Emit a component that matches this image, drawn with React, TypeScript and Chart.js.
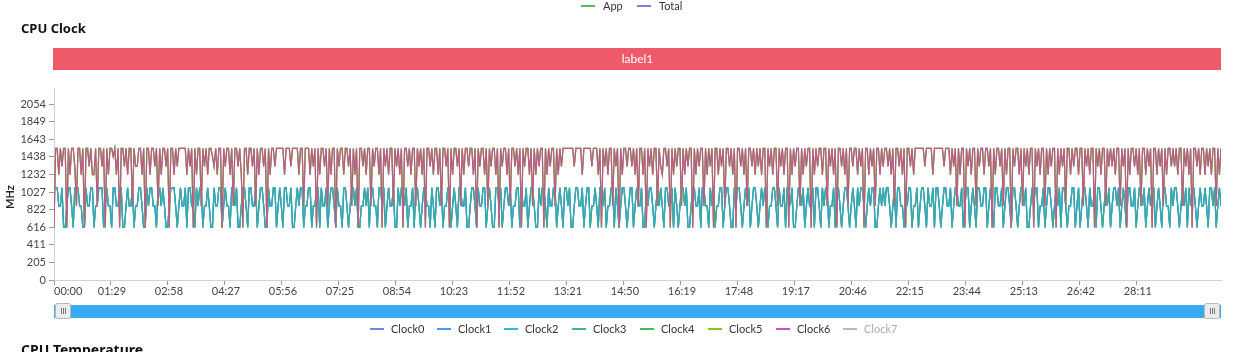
import { useEffect, useRef } from "react";
import { Chart, registerables } from "chart.js";

Chart.register(...registerables);

const seriesNames = ["Clock0", "Clock1", "Clock2", "Clock3", "Clock4", "Clock5", "Clock6", "Clock7"];
const seriesColors = ["#7784d8", "#4a9cf2", "#2fb8e6", "#3db59c", "#47b95a", "#86c617", "#d64cb4", "#b4b9c8"];
const lineColors = ["#7784d8", "#4a9cf2", "#2fb8e6", "rgba(58,168,150,0.9)", "#47b95a", "#86c617", "rgba(206,62,170,0.82)", "#b4b9c8"];
const hiddenSeries = ["Clock7"];
const topLegendNames = ["App", "Total"];
const topLegendColors = ["#5cb85c", "#7784d8"];
const yTickValues = [0, 205.4, 410.8, 616.2, 821.6, 1027, 1232.4, 1437.8, 1643.2, 1848.6, 2054];
const xTickSeconds = [0, 89, 178, 267, 356, 445, 534, 623, 712, 801, 890, 979, 1068, 1157, 1246, 1335, 1424, 1513, 1602, 1691];
const sampleStepSeconds = 2.5;
const xMaxSeconds = 1822.5;
const yMax = 2241;

// little-core cluster (Clock0-3), MHz
const littleClock = [
  1075,1075,1075,864,864,1075,614,614,864,1075,1075,864,614,1075,1075,1075,864,864,614,614,
  1075,864,864,1075,1075,614,864,864,1075,1075,1075,614,864,1075,864,864,614,1075,1075,864,
  864,1075,1075,614,614,864,1075,864,864,1075,614,864,864,1075,1075,864,614,614,1075,864,
  1075,1075,864,864,614,1075,1075,864,1075,864,614,614,864,1075,1075,1075,864,614,864,1075,
  864,864,1075,614,1075,1075,864,864,614,1075,864,1075,1075,614,864,864,1075,864,614,614,
  1075,864,864,1075,1075,614,864,1075,864,864,614,1075,1075,864,1075,614,614,864,1075,1075,
  864,614,1075,1075,864,864,1075,614,864,1075,1075,864,614,614,1075,864,864,1075,1075,614,
  864,1075,864,614,1075,1075,864,864,1075,614,614,864,1075,864,1075,1075,614,864,864,1075,
  1075,614,864,864,1075,1075,614,1075,864,864,1075,614,864,1075,1075,864,614,1075,864,864,
  614,1075,1075,864,614,864,1075,1075,864,1075,614,614,864,864,1075,864,1075,614,1075,1075,
  864,864,614,1075,1075,864,1075,614,864,1075,864,864,1075,614,614,1075,864,1075,1075,864,
  1075,614,864,864,1075,614,1075,1075,864,614,864,1075,1075,864,864,614,1075,864,614,1075,
  1075,864,1075,614,864,864,1075,1075,614,864,1075,864,614,1075,1075,864,864,1075,614,614,
  864,1075,1075,864,614,1075,864,864,1075,1075,614,864,1075,864,614,614,1075,1075,864,1075,
  614,864,1075,1075,864,1075,614,864,864,1075,1075,614,1075,864,864,1075,614,864,1075,1075,
  864,614,614,1075,864,1075,1075,864,614,1075,864,864,1075,1075,614,864,1075,864,614,1075,
  1075,864,1075,614,614,864,1075,1075,864,864,1075,614,864,1075,1075,614,864,864,1075,864,
  614,1075,1075,864,1075,614,864,864,1075,1075,614,1075,864,614,864,1075,1075,864,614,864,
  1075,1075,614,864,1075,864,864,1075,614,614,1075,864,1075,1075,864,614,864,1075,864,1075,
  864,614,1075,1075,864,864,1075,614,1075,864,614,864,1075,1075,864,1075,614,614,864,1075,
  1075,864,864,1075,614,1075,1075,864,864,614,1075,864,1075,614,864,864,1075,1075,614,864,
  1075,1075,864,614,614,1075,864,1075,1075,864,614,864,1075,864,1075,614,864,1075,1075,864,
  614,864,1075,864,1075,1075,614,864,864,1075,1075,864,614,1075,864,864,1075,614,1075,1075,
  864,1075,614,614,864,1075,1075,864,1075,614,864,1075,864,864,1075,614,1075,1075,864,614,
  1075,864,1075,1075,614,864,864,1075,614,1075,1075,864,614,864,1075,1075,864,614,864,1075,
  864,614,1075,864,1075,1075,864,614,864,1075,864,1075,1075,614,614,864,1075,864,1075,864,
  1075,1075,864,614,864,1075,614,1075,1075,864,864,614,1075,864,1075,1075,614,864,864,1075,
  614,864,1075,1075,864,614,1075,864,864,1075,614,1075,1075,864,614,864,1075,1075,864,864,
  1075,614,864,1075,1075,864,864,1075,614,864,1075,1075,614,864,1075,864,614,1075,1075,864,
  864,1075,1075,614,864,1075,864,614,1075,1075,864,864,1075,614,864,1075,1075,864,614,1075,
  1075,864,614,864,1075,1075,864,1075,614,614,864,1075,864,1075,1075,614,864,864,1075,614,
  864,1075,1075,864,614,864,1075,864,1075,614,1075,1075,864,614,864,864,1075,1075,614,864,
  1075,614,864,1075,1075,864,614,1075,864,864,1075,614,1075,1075,864,614,864,1075,864,1075,
  614,864,1075,1075,864,1075,614,864,1075,864,614,1075,1075,864,864,1075,614,864,1075,1075,
  864,1075,614,864,1075,864,1075,1075,614,864,1075,864,614,1075,1075,864,864,614,1075,864,
  1075,1075,864,614,864,1075,864,1075,614,1075,864,1075,1075,864,614,864,1075,864,864,1075,
  864,614,1075,1075,864,1075,614,864,1075,864,
];

// big-core cluster (Clock4-7), MHz
const bigClock = [
  614,1536,1536,1229,1536,1325,1536,1536,614,1536,1229,1536,1536,1325,864,1536,1536,1229,1536,614,
  1536,1536,1325,1536,1229,1229,1536,864,1536,1536,1325,1536,614,1536,1229,1536,1536,1440,1536,1229,
  1536,614,1536,1536,1325,1536,1229,1536,1536,864,1536,1325,1325,1536,1536,1229,1536,614,1536,1536,
  1229,1536,1536,1325,1536,864,1536,1229,1536,1536,1325,1536,614,1536,1536,1229,1536,1325,1536,1536,
  1536,1536,1536,1229,1536,1325,1536,614,1536,1229,1536,1536,864,1536,1325,1536,1229,1536,1536,1440,
  1325,1536,1229,1536,1536,614,1536,1325,1536,1536,1229,1536,864,1536,1536,1325,1536,1229,614,1536,
  1536,1229,1536,1536,1325,1536,864,1536,1229,1536,1536,1325,1536,614,1536,1229,1536,1536,1325,1536,
  1536,1536,1536,1536,1229,1536,1536,1536,1325,1536,1536,1536,1536,1229,1536,1536,864,1536,1536,1536,
  1229,1536,1325,1536,614,1536,1229,1536,1536,1325,1536,864,1536,1229,1536,1536,614,1536,1325,1536,
  1536,1229,1536,1536,1325,1536,864,1536,1229,1536,614,1536,1536,1325,1536,1229,1536,1536,864,1536,
  1325,1536,1536,1229,1536,614,1536,1325,1536,1229,1536,1536,864,1536,1325,1536,1229,1536,614,1536,
  1536,1325,1536,1229,1536,1536,864,1536,1325,1536,1229,1536,614,1536,1536,1325,1536,1229,1536,1536,
  1229,1536,864,1536,1536,1325,1536,614,1536,1229,1536,1536,1325,1536,864,1536,1229,1536,1536,1325,
  1536,1536,1229,1536,614,1536,1325,1536,1536,1229,1536,864,1536,1325,1536,1536,1229,1536,614,1536,
  1325,1536,1536,1229,1536,864,1536,1536,1325,1536,1229,1536,614,1536,1325,1536,1536,1229,1536,864,
  1536,1229,1536,1325,1536,1536,614,1536,1229,1536,1325,1536,1536,864,1536,1229,1536,1325,1536,1536,
  1536,1536,1536,1536,1536,1325,1536,1536,1536,1536,1229,1536,1536,1536,1536,1536,1325,1536,1536,1536,
  1229,1536,614,1536,1325,1536,1229,1536,1536,864,1536,1325,1536,614,1536,1229,1536,1536,1325,1536,
  1536,1325,1536,1229,1536,864,1536,1536,1229,1536,614,1536,1325,1536,1229,1536,1536,864,1536,1325,
  1229,1536,1536,1325,1536,614,1536,1229,1536,1325,1536,1536,864,1536,1229,1536,1325,1536,1536,614,
  1536,1229,1536,1325,1536,1536,864,1536,1229,1536,1325,1536,614,1536,1536,1229,1536,1325,1536,864,
  1536,1536,1325,1536,1229,1536,614,1536,1536,1325,1536,1229,1536,864,1536,1536,1325,1536,1229,1536,
  1325,1536,1229,1536,1536,614,1536,1325,1536,1229,1536,1536,864,1536,1325,1536,1229,1536,1536,614,
  1536,1229,1536,1325,1536,1536,864,1536,1229,1536,1325,1536,1536,614,1536,1229,1536,1325,1536,1536,
  1229,1536,1536,864,1536,1325,1536,1229,1536,614,1536,1536,1325,1536,1229,1536,864,1536,1536,1325,
  1536,1536,1229,1536,1325,1536,614,1536,1536,1229,1536,1325,1536,864,1536,1536,1229,1536,1325,1536,
  1536,1325,1536,1229,1536,864,1536,1536,1325,1536,1229,1536,614,1536,1536,1325,1536,1229,1536,1536,
  1536,1536,1536,1536,1325,1536,1536,1536,1536,1229,1536,1536,1536,1536,1536,1536,1325,1536,1536,1536,
  1229,1536,1325,1536,864,1536,1229,1536,1536,614,1536,1325,1536,1229,1536,1536,864,1536,1325,1536,
  1536,1229,1536,1536,1325,1536,614,1536,1229,1536,1536,1325,1536,864,1536,1229,1536,1536,614,1536,
  1325,1536,1536,1229,1536,864,1536,1325,1536,1229,1536,1536,614,1536,1325,1536,1229,1536,1536,864,
  1536,1229,1536,1325,1536,1536,614,1536,1229,1536,1325,1536,864,1536,1536,1229,1536,1325,1536,1536,
  1229,1536,1536,864,1536,1325,1536,1229,1536,1536,614,1536,1325,1536,1229,1536,1536,864,1536,1325,
  1536,1325,1536,1229,1536,1536,864,1536,1325,1536,614,1536,1229,1536,1536,1325,1536,1229,1536,864,
  1536,1536,1229,1536,1325,1536,614,1536,1536,1229,1536,1325,1536,864,1536,1229,1536,1536,1325,1536,
  1325,1536,1229,1536,1536,864,1536,1325,1536,1229,1536,614,1536,1536,1325,1536,1229,1536,1536,1229,
  1536,1325,1536,1229,1536,1536,864,1536,1229,1536,
];

const clusterOf = [littleClock, littleClock, littleClock, littleClock, bigClock, bigClock, bigClock, bigClock];

const FONT = "Lato, 'Noto Sans', sans-serif";

function fmtTime(sec: number) {
  const m = Math.floor(sec / 60);
  const s = sec % 60;
  return String(m).padStart(2, "0") + ":" + String(s).padStart(2, "0");
}

function drawHandle(ctx: CanvasRenderingContext2D, x: number, y: number) {
  ctx.fillStyle = "#ececec";
  ctx.strokeStyle = "#b8b8b8";
  ctx.lineWidth = 1;
  ctx.beginPath();
  (ctx as any).roundRect ? (ctx as any).roundRect(x + 0.5, y + 0.5, 15, 15, 2) : ctx.rect(x + 0.5, y + 0.5, 15, 15);
  ctx.fill();
  ctx.stroke();
  ctx.strokeStyle = "#777";
  for (let k = 0; k < 3; k++) {
    ctx.beginPath();
    ctx.moveTo(x + 6 + k * 2 + 0.5, y + 5);
    ctx.lineTo(x + 6 + k * 2 + 0.5, y + 11);
    ctx.stroke();
  }
}

const overlayPlugin = {
  id: "overlay",
  afterDraw(chart: any) {
    const ctx: CanvasRenderingContext2D = chart.ctx;
    const { left, right } = chart.chartArea;
    ctx.save();

    // top legend (App / Total)
    ctx.font = `11px ${FONT}`;
    ctx.textBaseline = "middle";
    ctx.textAlign = "left";
    const topX = [581, 637];
    topLegendNames.forEach((n, i) => {
      ctx.strokeStyle = topLegendColors[i];
      ctx.lineWidth = 2;
      ctx.beginPath();
      ctx.moveTo(topX[i], 6);
      ctx.lineTo(topX[i] + 14, 6);
      ctx.stroke();
      ctx.fillStyle = "#333";
      ctx.fillText(n, topX[i] + 22, 6);
    });

    // title
    ctx.font = `bold 13px 'Noto Sans', sans-serif`;
    ctx.fillStyle = "#111";
    ctx.fillText("CPU Clock", 21, 29);

    // label bar
    ctx.fillStyle = "#ee5a69";
    ctx.fillRect(left - 1, 48, right - left + 1, 22);
    ctx.fillStyle = "#fff";
    ctx.font = `12px ${FONT}`;
    ctx.textAlign = "center";
    ctx.fillText("label1", (left + right) / 2, 59);

    // y axis name
    ctx.save();
    ctx.translate(10, 197);
    ctx.rotate(-Math.PI / 2);
    ctx.font = `bold 11px ${FONT}`;
    ctx.fillStyle = "#222";
    ctx.fillText("MHz", 0, 0);
    ctx.restore();

    // x tick labels
    const xs = chart.scales.x;
    ctx.font = `11px ${FONT}`;
    ctx.fillStyle = "#444";
    xTickSeconds.forEach((sec, i) => {
      const px = xs.getPixelForValue(sec);
      ctx.textAlign = i === 0 ? "left" : "center";
      ctx.fillText(fmtTime(sec), i === 0 ? left : px + 1, 291);
    });

    // data zoom slider
    ctx.fillStyle = "#38aaf0";
    ctx.fillRect(left, 305, right - left, 13);
    drawHandle(ctx, left + 1, 303);
    drawHandle(ctx, right - 17, 303);

    // bottom legend
    const legX = [370, 437, 504, 572, 640, 708, 776, 843];
    ctx.textAlign = "left";
    ctx.font = `11px ${FONT}`;
    seriesNames.forEach((n, i) => {
      const hidden = hiddenSeries.includes(n);
      ctx.strokeStyle = seriesColors[i];
      ctx.lineWidth = 2;
      ctx.beginPath();
      ctx.moveTo(legX[i], 329);
      ctx.lineTo(legX[i] + 14, 329);
      ctx.stroke();
      ctx.fillStyle = hidden ? "#aab" : "#333";
      ctx.fillText(n, legX[i] + 21, 329);
    });

    // next section title (cut off)
    ctx.font = `bold 14px 'Noto Sans', sans-serif`;
    ctx.fillStyle = "#111";
    ctx.textBaseline = "top";
    ctx.fillText("CPU Temperature", 21, 344);

    ctx.restore();
  },
};

export default function App() {
  const canvasRef = useRef<HTMLCanvasElement | null>(null);

  useEffect(() => {
    const canvas = canvasRef.current;
    if (!canvas) return;
    const datasets = seriesNames.map((name, i) => ({
      label: name,
      data: clusterOf[i].map((v, k) => ({ x: k * sampleStepSeconds, y: v })),
      borderColor: lineColors[i],
      backgroundColor: seriesColors[i],
      borderWidth: 1.2,
      pointRadius: 0,
      tension: 0,
      hidden: hiddenSeries.includes(name),
      order: seriesNames.length - i,
    }));

    const chart = new Chart(canvas, {
      type: "line",
      data: { datasets },
      options: {
        animation: false,
        responsive: false,
        devicePixelRatio: 1,
        layout: { padding: { left: 0, top: 88, right: 38, bottom: 0 } },
        plugins: { legend: { display: false }, tooltip: { enabled: false }, title: { display: false } },
        scales: {
          x: {
            type: "linear",
            min: 0,
            max: xMaxSeconds,
            afterBuildTicks: (scale: any) => {
              scale.ticks = xTickSeconds.map((v) => ({ value: v }));
            },
            afterFit: (scale: any) => {
              scale.height = 72;
            },
            ticks: { display: false },
            grid: { drawOnChartArea: false, drawTicks: true, tickLength: 5, color: "#9a9a9a" },
            border: { display: true, color: "#cfd2dc" },
          },
          y: {
            type: "linear",
            min: 0,
            max: yMax,
            afterBuildTicks: (scale: any) => {
              scale.ticks = yTickValues.map((v) => ({ value: v }));
            },
            afterFit: (scale: any) => {
              scale.width = 54;
            },
            ticks: {
              callback: (v: any) => String(Math.round(Number(v))),
              font: { family: FONT, size: 11 },
              color: "#444",
              padding: 3,
            },
            grid: { drawOnChartArea: false, drawTicks: true, tickLength: 5, color: "#9a9a9a" },
            border: { display: true, color: "#cfd2dc" },
          },
        },
      } as any,
      plugins: [overlayPlugin],
    });
    return () => chart.destroy();
  }, []);

  return (
    <div style={{ position: "absolute", left: 0, top: 0, width: 1259, height: 352, background: "#fff" }}>
      <canvas ref={canvasRef} width={1259} height={352} style={{ display: "block", width: 1259, height: 352 }} />
    </div>
  );
}
